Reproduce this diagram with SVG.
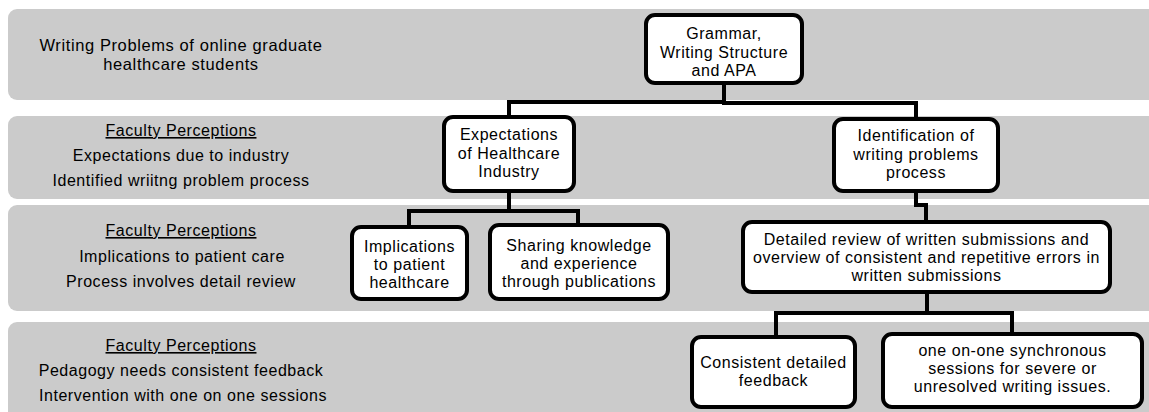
<svg xmlns="http://www.w3.org/2000/svg" width="1149" height="412" viewBox="0 0 1149 412">
<style>
.band{fill:#cbcbcb}
.box{fill:#ffffff;stroke:#000000;stroke-width:4}
.conn{fill:none;stroke:#000000;stroke-width:4;stroke-linejoin:miter}
text{font-family:"Liberation Sans","Arial",sans-serif;font-size:16px;fill:#000000;text-anchor:middle;letter-spacing:0.55px}
.big{font-size:16.5px;letter-spacing:0.6px}
.ul{text-decoration:underline}
</style>
<g id="bands">
<rect class="band" x="8" y="9" width="1160" height="91" rx="9"/>
<rect class="band" x="8" y="116" width="1160" height="83" rx="9"/>
<rect class="band" x="8" y="205" width="1160" height="106" rx="9"/>
<rect class="band" x="8" y="322" width="1160" height="110" rx="9"/>
</g>
<g id="band-labels">
<text class="big" x="181" y="51">Writing Problems of online graduate</text>
<text class="big" x="181" y="70">healthcare students</text>
<text class="ul" x="181" y="136">Faculty Perceptions</text>
<text x="181" y="161">Expectations due to industry</text>
<text x="181" y="186">Identified wriitng problem process</text>
<text class="ul" x="181" y="236">Faculty Perceptions</text>
<text x="182" y="262">Implications to patient care</text>
<text x="181" y="287">Process involves detail review</text>
<text class="ul" x="181" y="351">Faculty Perceptions</text>
<text x="181" y="376">Pedagogy needs consistent feedback</text>
<text x="183" y="401">Intervention with one on one sessions</text>
</g>
<g id="connectors">
<path class="conn" d="M724,83 V102 H509 V117"/>
<path class="conn" d="M724,83 V103 H916 V119"/>
<path class="conn" d="M509,191 V211 H409 V227"/>
<path class="conn" d="M509,191 V211 H578 V225"/>
<path class="conn" d="M916,191 V205 H926 V222"/>
<path class="conn" d="M927,292 V313 H776 V337"/>
<path class="conn" d="M927,292 V313 H1012 V335"/>
</g>
<g id="node-grammar">
<rect class="box" x="646" y="15" width="156" height="68" rx="9"/>
<text x="724" y="39">Grammar,</text>
<text x="724" y="57.5">Writing Structure</text>
<text x="724" y="76">and APA</text>
</g>
<g id="node-expectations">
<rect class="box" x="444" y="117" width="130" height="74" rx="9"/>
<text x="509" y="140">Expectations</text>
<text x="509" y="158.5">of Healthcare</text>
<text x="509" y="177">Industry</text>
</g>
<g id="node-identification">
<rect class="box" x="834" y="119" width="164" height="72" rx="9"/>
<text x="916" y="141">Identification of</text>
<text x="916" y="159.5">writing problems</text>
<text x="916" y="178">process</text>
</g>
<g id="node-implications">
<rect class="box" x="352" y="227" width="115" height="72" rx="9"/>
<text x="409.5" y="251.5">Implications</text>
<text x="409.5" y="269.5">to patient</text>
<text x="409.5" y="287.5">healthcare</text>
</g>
<g id="node-sharing">
<rect class="box" x="490" y="225" width="178" height="74" rx="9"/>
<text x="579" y="251">Sharing knowledge</text>
<text x="579" y="269">and experience</text>
<text x="579" y="287">through publications</text>
</g>
<g id="node-detailed">
<rect class="box" x="743" y="222" width="367" height="70" rx="9"/>
<text x="926.5" y="245">Detailed review of written submissions and</text>
<text x="926.5" y="263">overview of consistent and repetitive errors in</text>
<text x="926.5" y="281">written submissions</text>
</g>
<g id="node-consistent">
<rect class="box" x="692" y="337" width="163" height="70" rx="9"/>
<text x="773.5" y="368">Consistent detailed</text>
<text x="773.5" y="386">feedback</text>
</g>
<g id="node-oneonone">
<rect class="box" x="883" y="334" width="259" height="73" rx="9"/>
<text x="1012.5" y="356">one on-one synchronous</text>
<text x="1012.5" y="374">sessions for severe or</text>
<text x="1012.5" y="392">unresolved writing issues.</text>
</g>
</svg>
